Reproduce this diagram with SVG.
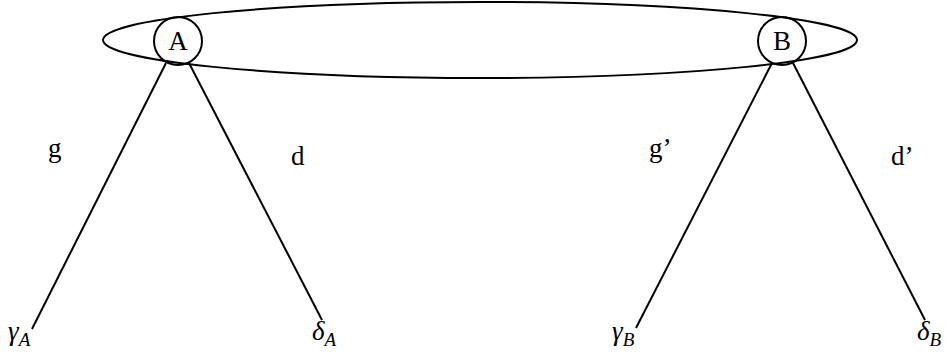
<svg xmlns="http://www.w3.org/2000/svg" width="947" height="354" viewBox="0 0 947 354">
<style>
.s{fill:none;stroke:#000;stroke-width:2}
.t{font-family:"Liberation Serif","Times New Roman",serif;font-size:27px;fill:#000}
.m{font-family:"Liberation Serif","Times New Roman",serif;font-style:italic;font-size:27px;fill:#000}
.sub{font-size:19px}
</style>
<rect width="947" height="354" fill="#fff"/>
<g id="group"><ellipse class="s" cx="480" cy="40" rx="377" ry="38"/></g>
<g id="connectors">
<line class="s" x1="166" y1="63" x2="32" y2="329"/>
<line class="s" x1="189" y1="63" x2="322" y2="320"/>
<line class="s" x1="772" y1="63" x2="636" y2="328"/>
<line class="s" x1="793" y1="63" x2="925" y2="320"/>
</g>
<g id="nodeA"><circle class="s" cx="178" cy="41" r="24" fill="#fff"/><text class="t" x="178" y="50" text-anchor="middle">A</text></g>
<g id="nodeB"><circle class="s" cx="782" cy="41" r="24" fill="#fff"/><text class="t" x="782" y="50" text-anchor="middle">B</text></g>
<g id="label-g"><text class="t" x="48" y="157">g</text></g>
<g id="label-d"><text class="t" x="291" y="165">d</text></g>
<g id="label-g2"><text class="t" x="649" y="157">g’</text></g>
<g id="label-d2"><text class="t" x="891" y="165">d’</text></g>
<g id="gammaA"><text class="m" x="8" y="340">γ<tspan class="sub" dy="6">A</tspan></text></g>
<g id="deltaA"><text class="m" x="312" y="340">δ<tspan class="sub" dy="6">A</tspan></text></g>
<g id="gammaB"><text class="m" x="612" y="340">γ<tspan class="sub" dy="6">B</tspan></text></g>
<g id="deltaB"><text class="m" x="917" y="340">δ<tspan class="sub" dy="6">B</tspan></text></g>
</svg>
